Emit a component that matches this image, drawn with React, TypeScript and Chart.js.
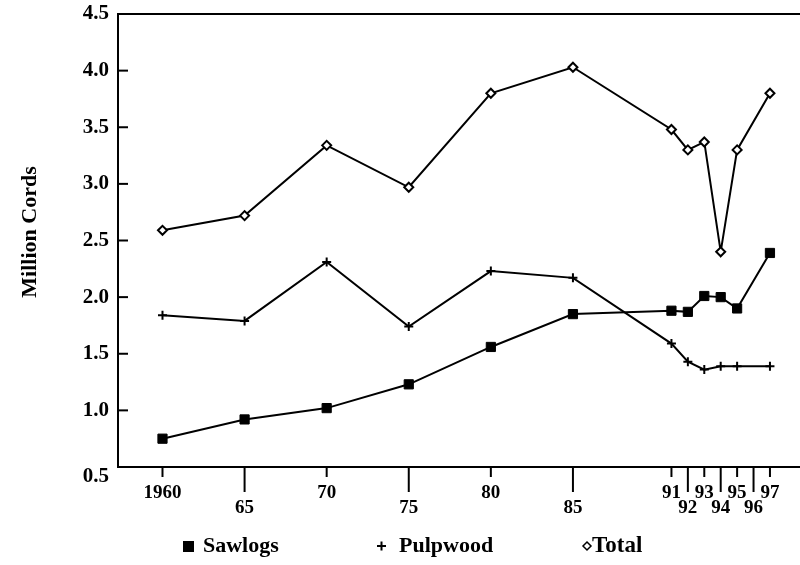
import { useEffect, useRef } from "react";
import { Chart, registerables } from "chart.js";

Chart.register(...registerables);

const years = [1960, 1965, 1970, 1975, 1980, 1985, 1991, 1992, 1993, 1994, 1995, 1997];
const sawlogs = [0.75, 0.92, 1.02, 1.23, 1.56, 1.85, 1.88, 1.87, 2.01, 2.0, 1.9, 2.39];
const pulpwood = [1.84, 1.79, 2.31, 1.74, 2.23, 2.17, 1.59, 1.43, 1.36, 1.39, 1.39, 1.39];
const total = [2.59, 2.72, 3.34, 2.97, 3.8, 4.03, 3.48, 3.3, 3.37, 2.4, 3.3, 3.8];

const xTickValues = [1960, 1965, 1970, 1975, 1980, 1985, 1991, 1992, 1993, 1994, 1995, 1996, 1997];
const xTickLabels = ["1960", "65", "70", "75", "80", "85", "91", "92", "93", "94", "95", "96", "97"];
const xTickLowRow = [false, true, false, true, false, true, false, true, false, true, false, true, false];
const yTickValues = [0.5, 1.0, 1.5, 2.0, 2.5, 3.0, 3.5, 4.0, 4.5];

const FONT = "'Liberation Serif', 'Times New Roman', serif";

const toPoints = (vals: number[]) => vals.map((v, i) => ({ x: years[i], y: v }));

const customDraw = {
  id: "customDraw",
  afterDraw(chart: any) {
    const { ctx, chartArea, scales } = chart;
    const xs = scales.x;
    const ys = scales.y;
    ctx.save();
    ctx.strokeStyle = "#000";
    ctx.fillStyle = "#000";
    ctx.lineWidth = 2;
    // top border
    ctx.beginPath();
    ctx.moveTo(chartArea.left - 1, chartArea.top);
    ctx.lineTo(chartArea.right, chartArea.top);
    ctx.stroke();

    // y ticks (inside) and labels
    ctx.font = `bold 21px ${FONT}`;
    ctx.textAlign = "right";
    ctx.textBaseline = "middle";
    yTickValues.forEach((v) => {
      const y = ys.getPixelForValue(v);
      ctx.beginPath();
      ctx.moveTo(chartArea.left, y);
      ctx.lineTo(chartArea.left + 10, y);
      ctx.stroke();
      const ly = v === yTickValues[0] ? y + 10 : y;
      ctx.fillText(v.toFixed(1), chartArea.left - 9, ly);
    });

    // x ticks (outside) and labels in two rows
    ctx.font = `bold 19px ${FONT}`;
    ctx.textAlign = "center";
    ctx.textBaseline = "middle";
    xTickValues.forEach((v, i) => {
      const x = xs.getPixelForValue(v);
      const low = xTickLowRow[i];
      ctx.beginPath();
      ctx.moveTo(x, chartArea.bottom);
      ctx.lineTo(x, chartArea.bottom + (low ? 25 : 10));
      ctx.stroke();
      ctx.fillText(xTickLabels[i], x, chartArea.bottom + (low ? 41 : 26));
    });

    // y title
    ctx.save();
    ctx.font = `bold 22px ${FONT}`;
    ctx.translate(30, 232);
    ctx.rotate(-Math.PI / 2);
    ctx.textAlign = "center";
    ctx.textBaseline = "middle";
    ctx.fillText("Million Cords", 0, 0);
    ctx.restore();

    // legend
    const ly = 546;
    ctx.font = `bold 22px ${FONT}`;
    ctx.textAlign = "left";
    ctx.textBaseline = "middle";
    // Sawlogs
    ctx.fillRect(183, ly - 5, 11, 11);
    ctx.fillText("Sawlogs", 203, ly);
    // Pulpwood
    ctx.lineWidth = 2;
    ctx.beginPath();
    ctx.moveTo(377, ly);
    ctx.lineTo(386, ly);
    ctx.moveTo(381.5, ly - 4.5);
    ctx.lineTo(381.5, ly + 4.5);
    ctx.stroke();
    ctx.fillText("Pulpwood", 399, ly);
    // Total
    ctx.lineWidth = 1.5;
    ctx.beginPath();
    ctx.moveTo(587, ly - 4);
    ctx.lineTo(591, ly);
    ctx.lineTo(587, ly + 4);
    ctx.lineTo(583, ly);
    ctx.closePath();
    ctx.stroke();
    ctx.font = `bold 23px ${FONT}`;
    ctx.fillText("Total", 592, ly);
    ctx.restore();
  },
};

export default function App() {
  const ref = useRef<HTMLCanvasElement | null>(null);
  useEffect(() => {
    if (!ref.current) return;
    const chart = new Chart(ref.current, {
      type: "line",
      data: {
        datasets: [
          {
            label: "Sawlogs",
            data: toPoints(sawlogs),
            borderColor: "#000",
            backgroundColor: "#000",
            borderWidth: 2,
            pointStyle: "rect",
            pointRadius: 6.5,
            pointBorderWidth: 1,
            pointBackgroundColor: "#000",
            pointBorderColor: "#000",
          },
          {
            label: "Pulpwood",
            data: toPoints(pulpwood),
            borderColor: "#000",
            backgroundColor: "#000",
            borderWidth: 2,
            pointStyle: "cross",
            pointRadius: 4.5,
            pointBorderWidth: 2,
            pointBorderColor: "#000",
          },
          {
            label: "Total",
            data: toPoints(total),
            borderColor: "#000",
            backgroundColor: "#fff",
            borderWidth: 2,
            pointStyle: "rectRot",
            pointRadius: 4.5,
            pointBorderWidth: 2,
            pointBackgroundColor: "#fff",
            pointBorderColor: "#000",
          },
        ],
      },
      options: {
        animation: false,
        responsive: false,
        events: [],
        layout: { autoPadding: false, padding: { top: 14, right: 0, left: 0, bottom: 0 } },
        plugins: { legend: { display: false }, tooltip: { enabled: false } },
        scales: {
          x: {
            type: "linear",
            min: 1957.29,
            max: 1998.83,
            ticks: { display: false },
            grid: { display: false },
            border: { display: true, color: "#000", width: 2 },
            afterFit: (s: any) => {
              s.height = 98;
            },
          },
          y: {
            type: "linear",
            min: 0.5,
            max: 4.5,
            ticks: { display: false },
            grid: { display: false },
            border: { display: true, color: "#000", width: 2 },
            afterFit: (s: any) => {
              s.width = 118;
            },
          },
        },
      },
      plugins: [customDraw],
    });
    return () => chart.destroy();
  }, []);
  return (
    <div style={{ position: "fixed", left: 0, top: 0, width: 800, height: 565, background: "#fff" }}>
      <canvas ref={ref} width={800} height={565} />
    </div>
  );
}
